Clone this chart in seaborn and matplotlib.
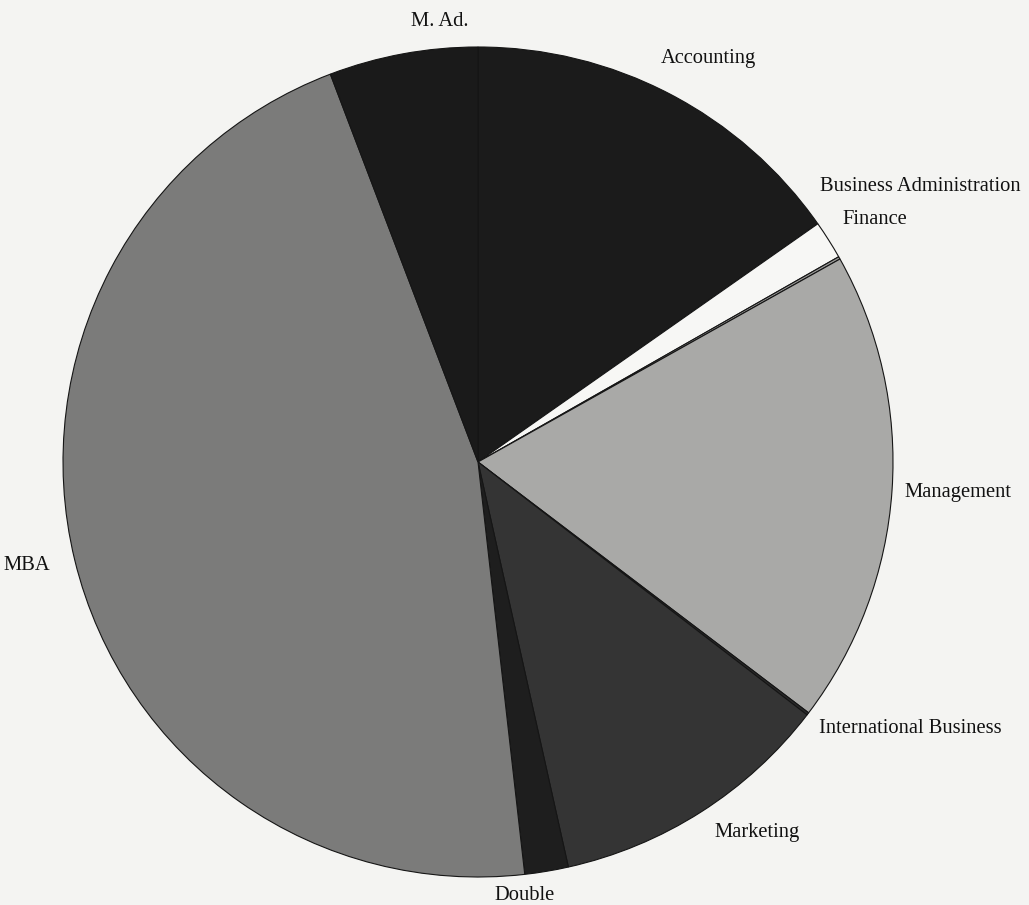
import numpy as np
import matplotlib
matplotlib.use('Agg')
import matplotlib.pyplot as plt
import seaborn as sns

# share of students by programme (percent)
programs = ['Accounting', 'Business Administration', 'Finance', 'Management',
            'International Business', 'Marketing', 'Double', 'MBA', 'M. Ad.']
shares = [15.3, 1.5, 0.1, 18.5, 0.1, 11.1, 1.7, 46.1, 5.8]
greys = ['#1b1b1b', '#f7f7f5', '#9a9a98', '#a9a9a7', '#2a2a2a',
         '#343434', '#1e1e1e', '#7b7b7a', '#1a1a1a']

# label nudges (data units) and alignment, to follow the original layout
nudge = {
    'M. Ad.': (0.10, 0.02, 'center'),
    'Accounting': (0.065, 0.033, 'center'),
    'Business Administration': (-0.071, 0.096, 'left'),
    'Finance': (-0.044, 0.064, 'left'),
    'Management': (-0.03, 0.0, 'left'),
    'International Business': (-0.02, 0.0, 'left'),
    'Double': (-0.064, 0.0, 'center'),
}

sns.set_theme(style='white')
plt.rcParams['font.family'] = ['Liberation Serif', 'DejaVu Serif']

bg = '#f4f4f2'
fig = plt.figure(figsize=(10.29, 9.05), dpi=100, facecolor=bg)
r_px = 415
cx, cy = 478, 462
ax = fig.add_axes([(cx - r_px) / 1029, (905 - cy - r_px) / 905,
                   2 * r_px / 1029, 2 * r_px / 905])
ax.set_facecolor(bg)

wedges, texts = ax.pie(shares, labels=programs, colors=greys, startangle=90,
                       counterclock=False, labeldistance=1.06,
                       wedgeprops=dict(edgecolor='#151515', linewidth=0.8),
                       textprops=dict(fontsize=14.8, color='#111111'))
for t in texts:
    name = t.get_text()
    if name in nudge:
        dx, dy, ha = nudge[name]
        x, y = t.get_position()
        t.set_position((x + dx, y + dy))
        t.set_ha(ha)

ax.set_xlim(-1, 1)
ax.set_ylim(-1, 1)
ax.set_aspect('equal')
ax.axis('off')

plt.savefig('out.png', dpi=100, facecolor=bg)
